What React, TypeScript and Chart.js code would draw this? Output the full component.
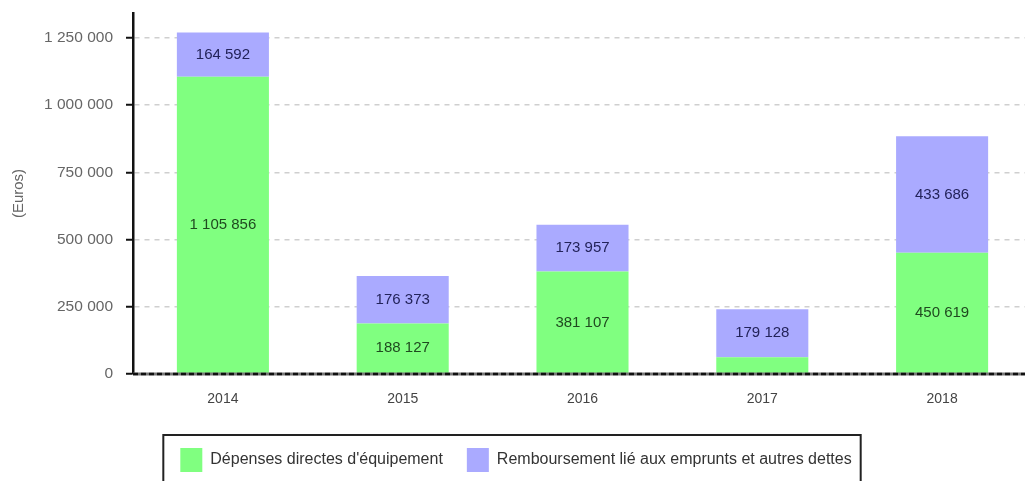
import React, { useEffect, useRef } from "react";
import { Chart, registerables } from "chart.js";

Chart.register(...registerables);

const categories = ["2014", "2015", "2016", "2017", "2018"];
const depensesDirectes = [1105856, 188127, 381107, 62000, 450619];
const remboursement = [164592, 176373, 173957, 179128, 433686];
const seriesNames = ["Dépenses directes d'équipement", "Remboursement lié aux emprunts et autres dettes"];
const yTickValues = [0, 250000, 500000, 750000, 1000000, 1250000];
const yAxisTitle = "(Euros)";

const FONT = "'Liberation Sans', Arial, sans-serif";

const fmt = (n: number) => Math.round(n).toString().replace(/\B(?=(\d{3})+(?!\d))/g, " ");

const labelColors = ["#1f4a1f", "#23235a"];

const segmentLabels = {
  id: "segmentLabels",
  afterDatasetsDraw(chart: any) {
    const ctx = chart.ctx;
    ctx.save();
    ctx.font = `15px ${FONT}`;
    ctx.textAlign = "center";
    ctx.textBaseline = "middle";
    chart.data.datasets.forEach((ds: any, di: number) => {
      const meta = chart.getDatasetMeta(di);
      meta.data.forEach((el: any, i: number) => {
        const h = Math.abs(el.base - el.y);
        if (h < 24) return;
        ctx.fillStyle = labelColors[di];
        ctx.fillText(fmt(ds.data[i]), el.x, (el.y + el.base) / 2);
      });
    });
    // dashed zero line
    const y0 = chart.scales.y.getPixelForValue(0);
    const { left, right } = chart.chartArea;
    ctx.beginPath();
    ctx.setLineDash([]);
    ctx.strokeStyle = "#777";
    ctx.lineWidth = 3;
    ctx.moveTo(left, y0);
    ctx.lineTo(right, y0);
    ctx.stroke();
    ctx.beginPath();
    ctx.setLineDash([5, 3]);
    ctx.strokeStyle = "#111";
    ctx.lineWidth = 2.5;
    ctx.moveTo(left, y0);
    ctx.lineTo(right, y0);
    ctx.stroke();
    ctx.restore();
  },
};

const legendBorder = {
  id: "legendBorder",
  afterDraw(chart: any) {
    const lg = chart.legend;
    if (!lg || !lg.legendHitBoxes || !lg.legendHitBoxes.length) return;
    const hb = lg.legendHitBoxes;
    const first = hb[0];
    const last = hb[hb.length - 1];
    const ctx = chart.ctx;
    ctx.save();
    ctx.strokeStyle = "#222";
    ctx.lineWidth = 2;
    const x1 = first.left - 17;
    const x2 = last.left + last.width + 9;
    const y1 = first.top - 13;
    ctx.strokeRect(x1, y1, x2 - x1, chart.height - y1 + 10);
    ctx.restore();
  },
};

export default function App() {
  const ref = useRef<HTMLCanvasElement>(null);
  useEffect(() => {
    if (!ref.current) return;
    const chart = new Chart(ref.current, {
      type: "bar",
      data: {
        labels: categories,
        datasets: [
          {
            label: seriesNames[0],
            data: depensesDirectes,
            backgroundColor: "#80FF80",
            borderWidth: 0,
            barPercentage: 0.512,
            categoryPercentage: 1,
          },
          {
            label: seriesNames[1],
            data: remboursement,
            backgroundColor: "#AAAAFF",
            borderWidth: 0,
            barPercentage: 0.512,
            categoryPercentage: 1,
          },
        ],
      },
      options: {
        responsive: false,
        animation: false,
        layout: { padding: { top: 13, right: 2, left: 0, bottom: 18 } },
        plugins: {
          tooltip: { enabled: false },
          legend: {
            position: "bottom",
            onClick: () => {},
            labels: {
              boxWidth: 22,
              boxHeight: 24,
              padding: 24,
              color: "#333",
              font: { family: FONT, size: 16 },
            },
          },
        },
        scales: {
          x: {
            stacked: true,
            grid: { display: false },
            border: { display: false },
            ticks: { color: "#444", font: { family: FONT, size: 14 }, padding: 9 },
            afterFit: (s: any) => {
              s.height = 50;
            },
          },
          y: {
            stacked: true,
            min: 0,
            max: 1343000,
            afterBuildTicks: (s: any) => {
              s.ticks = yTickValues.map((v) => ({ value: v }));
            },
            afterFit: (s: any) => {
              s.width = 133;
              s.paddingTop = 0;
            },
            grid: {
              color: "#cfcfcf",
              lineWidth: 1.5,
              tickColor: "#111",
              tickLength: 7,
              tickWidth: 2,
            },
            border: { display: true, color: "#111", width: 2.5, dash: [5, 5] },
            ticks: {
              color: "#666",
              font: { family: FONT, size: 15.5 },
              padding: 13,
              callback: (v: any) => fmt(Number(v)),
            },
            title: {
              display: true,
              text: yAxisTitle,
              color: "#666",
              font: { family: FONT, size: 15 },
              padding: { top: 10, bottom: 0 },
            },
          },
        },
      },
      plugins: [segmentLabels, legendBorder],
    });
    return () => chart.destroy();
  }, []);
  return (
    <div style={{ position: "fixed", left: 0, top: 0, width: 1025, height: 481, overflow: "hidden", background: "#fff" }}>
      <canvas ref={ref} width={1034} height={500} style={{ width: 1034, height: 500, display: "block" }} />
    </div>
  );
}
